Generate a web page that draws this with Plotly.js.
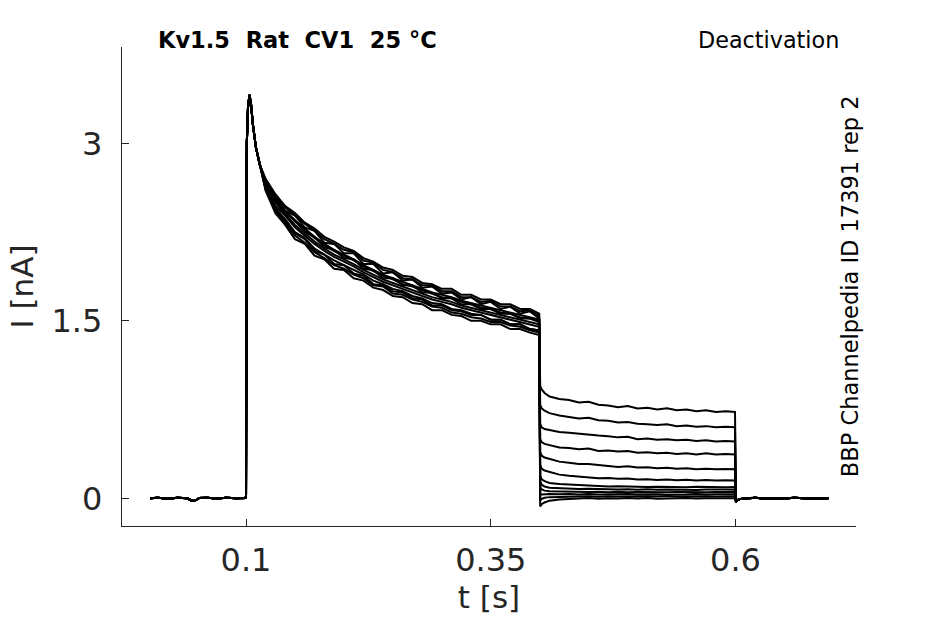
<!DOCTYPE html>
<html>
<head>
<meta charset="utf-8">
<script src="https://cdn.plot.ly/plotly-3.0.1.min.js"></script>
<style>
  html, body { margin: 0; padding: 0; background: #fff; }
  #plot { width: 945px; height: 624px; }
</style>
</head>
<body>
<div id="plot"></div>
<script>
// time samples (s), shared by all sweeps
var tPre   = [0.002, 0.01, 0.02, 0.03, 0.04, 0.044, 0.047, 0.05, 0.052, 0.06, 0.07, 0.08, 0.09, 0.0995]
var tRise  = [0.1, 0.1004, 0.1008, 0.102, 0.1035, 0.105, 0.107, 0.11, 0.114]
var tAct   = [0.12, 0.13, 0.14, 0.15, 0.16, 0.17, 0.18, 0.19, 0.20, 0.21, 0.22, 0.23, 0.24, 0.25,
              0.26, 0.27, 0.28, 0.29, 0.30, 0.31, 0.32, 0.33, 0.34, 0.35, 0.36, 0.37, 0.38, 0.39, 0.3995]
var tDeact = [0.4005, 0.402, 0.405, 0.41, 0.42, 0.43, 0.44, 0.45, 0.46, 0.47, 0.48, 0.49, 0.50,
              0.51, 0.52, 0.53, 0.54, 0.55, 0.56, 0.57, 0.58, 0.59, 0.5995]
var tPost  = [0.6005, 0.602, 0.605, 0.61, 0.62, 0.63, 0.64, 0.65, 0.66, 0.67, 0.68, 0.69, 0.695]

// current (nA), common parts
var iPre  = [0.0, 0.005, -0.003, 0.004, 0.0, -0.018, -0.02, -0.012, 0.002, 0.004, -0.002, 0.005, 0.0, 0.003]
var iRise = [0.02, 2.6, 3.0, 3.3, 3.41, 3.34, 3.16, 2.97, 2.82]
var iPost = [-0.03, -0.015, -0.005, 0.0, 0.004, -0.003, 0.003, -0.002, 0.004, 0.0, -0.003, 0.003, 0.0]

// activation phase, one row per sweep
var act1  = [2.69, 2.56, 2.46, 2.39, 2.32, 2.26, 2.19, 2.15, 2.10, 2.08, 2.01, 1.99, 1.93, 1.91, 1.86, 1.85, 1.80, 1.80, 1.75, 1.75, 1.70, 1.70, 1.66, 1.67, 1.62, 1.62, 1.58, 1.59, 1.54]
var act2  = [2.61, 2.43, 2.33, 2.22, 2.16, 2.08, 2.03, 1.97, 1.94, 1.89, 1.86, 1.80, 1.79, 1.73, 1.72, 1.68, 1.66, 1.62, 1.61, 1.57, 1.56, 1.53, 1.52, 1.49, 1.49, 1.46, 1.45, 1.42, 1.40]
var act3  = [2.66, 2.53, 2.42, 2.34, 2.27, 2.20, 2.14, 2.09, 2.05, 2.01, 1.96, 1.92, 1.88, 1.85, 1.81, 1.79, 1.76, 1.73, 1.70, 1.69, 1.66, 1.64, 1.61, 1.60, 1.57, 1.56, 1.53, 1.52, 1.50]
var act4  = [2.64, 2.47, 2.39, 2.29, 2.22, 2.15, 2.09, 2.04, 2.00, 1.96, 1.91, 1.87, 1.83, 1.80, 1.77, 1.74, 1.71, 1.68, 1.66, 1.64, 1.61, 1.59, 1.57, 1.55, 1.53, 1.51, 1.49, 1.47, 1.45]
var act5  = [2.68, 2.55, 2.43, 2.39, 2.29, 2.26, 2.16, 2.15, 2.07, 2.07, 1.98, 1.98, 1.90, 1.91, 1.84, 1.85, 1.78, 1.79, 1.73, 1.74, 1.68, 1.70, 1.64, 1.66, 1.60, 1.62, 1.56, 1.58, 1.52]
var act6  = [2.60, 2.41, 2.31, 2.19, 2.15, 2.05, 2.02, 1.94, 1.93, 1.86, 1.84, 1.78, 1.76, 1.71, 1.70, 1.65, 1.64, 1.59, 1.59, 1.55, 1.54, 1.50, 1.50, 1.47, 1.47, 1.43, 1.43, 1.40, 1.38]
var act7  = [2.65, 2.50, 2.40, 2.31, 2.24, 2.17, 2.11, 2.06, 2.02, 1.98, 1.93, 1.89, 1.85, 1.82, 1.79, 1.76, 1.73, 1.70, 1.68, 1.66, 1.63, 1.61, 1.59, 1.57, 1.55, 1.53, 1.51, 1.49, 1.47]
var act8  = [2.70, 2.57, 2.47, 2.41, 2.33, 2.28, 2.21, 2.17, 2.12, 2.09, 2.03, 2.00, 1.95, 1.93, 1.88, 1.87, 1.82, 1.81, 1.77, 1.77, 1.72, 1.72, 1.68, 1.68, 1.64, 1.64, 1.60, 1.60, 1.56]
var act9  = [2.62, 2.45, 2.35, 2.24, 2.19, 2.09, 2.06, 1.98, 1.97, 1.90, 1.88, 1.81, 1.80, 1.75, 1.74, 1.69, 1.68, 1.63, 1.63, 1.59, 1.58, 1.55, 1.55, 1.51, 1.51, 1.47, 1.47, 1.43, 1.42]
var act10 = [2.66, 2.52, 2.41, 2.35, 2.25, 2.21, 2.12, 2.10, 2.03, 2.02, 1.94, 1.93, 1.86, 1.86, 1.80, 1.80, 1.74, 1.74, 1.69, 1.69, 1.64, 1.64, 1.60, 1.60, 1.56, 1.56, 1.52, 1.52, 1.49]
var act11 = [2.62, 2.45, 2.36, 2.25, 2.20, 2.11, 2.06, 2.01, 1.97, 1.93, 1.89, 1.84, 1.81, 1.77, 1.75, 1.71, 1.69, 1.65, 1.64, 1.60, 1.59, 1.56, 1.55, 1.51, 1.51, 1.47, 1.47, 1.43, 1.42]
var act12 = [2.67, 2.53, 2.43, 2.35, 2.28, 2.21, 2.15, 2.10, 2.06, 2.02, 1.97, 1.93, 1.89, 1.86, 1.83, 1.80, 1.77, 1.74, 1.72, 1.70, 1.67, 1.65, 1.63, 1.61, 1.59, 1.57, 1.55, 1.53, 1.51]

// deactivation (tail) phase, one row per sweep
var dea1  = [0.95, 0.92, 0.89, 0.86, 0.84, 0.83, 0.81, 0.815, 0.79, 0.785, 0.77, 0.78, 0.76, 0.765, 0.75, 0.76, 0.745, 0.75, 0.735, 0.745, 0.73, 0.735, 0.73]
var dea2  = [0.79, 0.76, 0.74, 0.72, 0.70, 0.69, 0.675, 0.68, 0.66, 0.655, 0.64, 0.645, 0.63, 0.625, 0.62, 0.625, 0.61, 0.615, 0.605, 0.61, 0.60, 0.605, 0.60]
var dea3  = [0.63, 0.60, 0.585, 0.575, 0.56, 0.555, 0.545, 0.54, 0.53, 0.525, 0.515, 0.52, 0.50, 0.505, 0.495, 0.50, 0.49, 0.495, 0.485, 0.49, 0.48, 0.485, 0.48]
var dea4  = [0.50, 0.475, 0.46, 0.45, 0.43, 0.425, 0.415, 0.42, 0.40, 0.405, 0.395, 0.40, 0.385, 0.39, 0.38, 0.385, 0.375, 0.38, 0.37, 0.38, 0.37, 0.375, 0.37]
var dea5  = [0.39, 0.36, 0.345, 0.335, 0.31, 0.30, 0.29, 0.29, 0.28, 0.275, 0.265, 0.27, 0.26, 0.262, 0.255, 0.258, 0.25, 0.255, 0.245, 0.25, 0.245, 0.248, 0.245]
var dea6  = [0.28, 0.25, 0.235, 0.222, 0.20, 0.19, 0.185, 0.18, 0.17, 0.172, 0.165, 0.168, 0.16, 0.162, 0.155, 0.16, 0.152, 0.157, 0.15, 0.155, 0.15, 0.153, 0.15]
var dea7  = [0.19, 0.16, 0.145, 0.13, 0.12, 0.115, 0.11, 0.108, 0.105, 0.10, 0.102, 0.098, 0.10, 0.096, 0.098, 0.095, 0.097, 0.094, 0.097, 0.095, 0.096, 0.094, 0.096]
var dea8  = [0.14, 0.115, 0.10, 0.09, 0.085, 0.082, 0.078, 0.08, 0.076, 0.078, 0.074, 0.077, 0.073, 0.076, 0.072, 0.075, 0.073, 0.074, 0.071, 0.075, 0.072, 0.074, 0.073]
var dea9  = [0.09, 0.075, 0.065, 0.06, 0.058, 0.055, 0.057, 0.053, 0.056, 0.052, 0.055, 0.051, 0.054, 0.052, 0.055, 0.051, 0.054, 0.052, 0.053, 0.051, 0.054, 0.052, 0.053]
var dea10 = [0.03, 0.032, 0.035, 0.036, 0.034, 0.037, 0.033, 0.036, 0.032, 0.035, 0.033, 0.036, 0.032, 0.035, 0.034, 0.031, 0.035, 0.033, 0.036, 0.032, 0.035, 0.033, 0.034]
var dea11 = [-0.02, -0.005, 0.005, 0.01, 0.012, 0.015, 0.013, 0.017, 0.014, 0.018, 0.015, 0.017, 0.014, 0.018, 0.016, 0.019, 0.015, 0.017, 0.014, 0.018, 0.016, 0.017, 0.017]
var dea12 = [-0.07, -0.05, -0.035, -0.02, -0.01, -0.005, -0.002, 0.002, -0.003, 0.001, -0.002, 0.003, -0.001, 0.002, -0.003, 0.001, 0.0, 0.002, -0.002, 0.001, -0.001, 0.002, 0.0]

var actRows = [act1, act2, act3, act4, act5, act6, act7, act8, act9, act10, act11, act12]
var deaRows = [dea1, dea2, dea3, dea4, dea5, dea6, dea7, dea8, dea9, dea10, dea11, dea12]

var xTicks = [0.1, 0.35, 0.6]
var yTicks = [0, 1.5, 3]

var data = []
var tAll = tPre.concat(tRise, tAct, tDeact, tPost)
for (var k = 0; k < actRows.length; k++) {
    data.push({
        x: tAll,
        y: iPre.concat(iRise, actRows[k], deaRows[k], iPost),
        type: 'scatter',
        mode: 'lines',
        line: {color: '#000000', width: 2},
        hoverinfo: 'skip',
        showlegend: false
    })
}

var font = 'DejaVu Sans, sans-serif'
var ink = '#262626'

var layout = {
    width: 945,
    height: 624,
    margin: {l: 122, r: 89, t: 47, b: 98},
    paper_bgcolor: '#ffffff',
    plot_bgcolor: '#ffffff',
    showlegend: false,
    xaxis: {
        range: [-0.0267, 0.7231],
        tickvals: xTicks,
        ticktext: xTicks.map(String),
        ticks: 'inside',
        ticklen: 7,
        tickcolor: ink,
        tickwidth: 1,
        ticklabelstandoff: 5,
        showline: true,
        linecolor: ink,
        linewidth: 1.2,
        showgrid: false,
        zeroline: false,
        tickfont: {family: font, size: 32, color: ink},
        title: {text: 't [s]', font: {family: font, size: 31, color: ink}, standoff: 8}
    },
    yaxis: {
        range: [-0.234, 3.814],
        tickvals: yTicks,
        ticktext: yTicks.map(String),
        ticks: 'inside',
        ticklen: 7,
        tickcolor: ink,
        tickwidth: 1,
        ticklabelstandoff: 12,
        showline: true,
        linecolor: ink,
        linewidth: 1.2,
        showgrid: false,
        zeroline: false,
        tickfont: {family: font, size: 32, color: ink},
        title: {text: 'I [nA]', font: {family: font, size: 31, color: ink}, standoff: 8}
    },
    annotations: [
        {
            text: '<b>Kv1.5\u00a0\u00a0Rat\u00a0\u00a0CV1\u00a0\u00a025\u00a0°C</b>',
            xref: 'paper', yref: 'paper', x: 0.047, y: 1.0146,
            xanchor: 'left', yanchor: 'middle', showarrow: false,
            font: {family: font, size: 22.5, color: '#000000'}
        },
        {
            text: 'Deactivation',
            xref: 'paper', yref: 'paper', x: 0.979, y: 1.0146,
            xanchor: 'right', yanchor: 'middle', showarrow: false,
            font: {family: font, size: 22.3, color: '#000000'}
        },
        {
            text: 'BBP Channelpedia ID 17391 rep 2',
            xref: 'paper', yref: 'paper', x: 0.992, y: 0.501,
            xanchor: 'center', yanchor: 'middle', textangle: -90, showarrow: false,
            font: {family: font, size: 22.5, color: '#000000'}
        }
    ]
}

Plotly.newPlot('plot', data, layout, {displayModeBar: false, staticPlot: true})
</script>
</body>
</html>
